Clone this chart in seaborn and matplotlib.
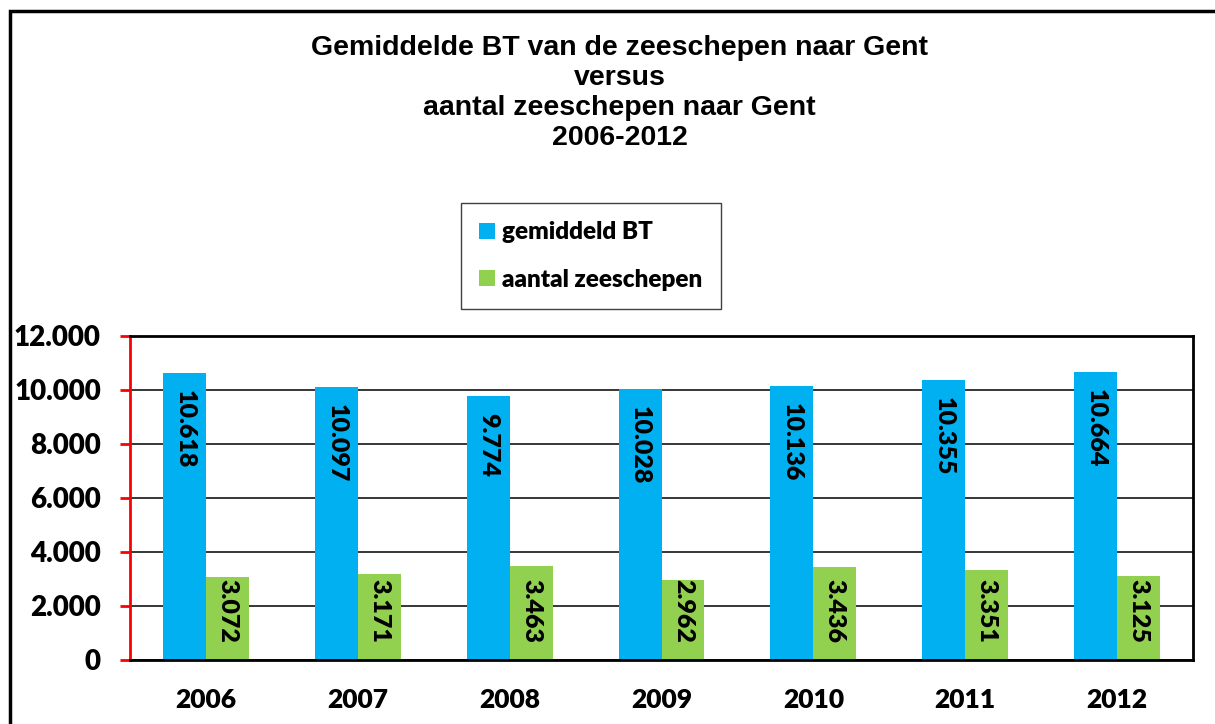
import matplotlib
matplotlib.use("Agg")
import matplotlib.pyplot as plt
from matplotlib.patches import Rectangle
from matplotlib.ticker import FuncFormatter, MultipleLocator
import pandas as pd
import seaborn as sns

# data
jaren = ["2006", "2007", "2008", "2009", "2010", "2011", "2012"]
gemiddeld_bt = [10618, 10097, 9774, 10028, 10136, 10355, 10664]
aantal_schepen = [3072, 3171, 3463, 2962, 3436, 3351, 3125]
reeksen = ["gemiddeld BT", "aantal zeeschepen"]
kleuren = ["#00B0F0", "#92D050"]

df = pd.DataFrame({
    "jaar": jaren * 2,
    "waarde": gemiddeld_bt + aantal_schepen,
    "reeks": [reeksen[0]] * len(jaren) + [reeksen[1]] * len(jaren),
})

def nl(v):
    return f"{int(v):,}".replace(",", ".")

sns.set_style("white")
plt.rcParams["font.family"] = ["Lato", "DejaVu Sans"]
plt.rcParams["font.weight"] = "heavy"
plt.rcParams["text.color"] = "black"
plt.rcParams["xtick.labelcolor"] = "black"
plt.rcParams["ytick.labelcolor"] = "black"

fig = plt.figure(figsize=(12.15, 7.24), dpi=100)
ax = fig.add_axes([130 / 1215, 1 - 660 / 724, 1063 / 1215, 324 / 724])

sns.barplot(data=df, x="jaar", y="waarde", hue="reeks", palette=kleuren,
            width=0.566, linewidth=0, saturation=1, ax=ax)

ax.set_ylim(0, 12000)
ax.yaxis.set_major_locator(MultipleLocator(2000))
ax.yaxis.set_major_formatter(FuncFormatter(lambda v, p: nl(v)))
ax.set_xlabel("")
ax.set_ylabel("")
ax.set_axisbelow(True)
ax.grid(axis="y", color="black", linewidth=1.1)

for s in ["top", "right", "bottom"]:
    ax.spines[s].set_color("black")
    ax.spines[s].set_linewidth(2)
ax.spines["left"].set_color("red")
ax.spines["left"].set_linewidth(2)

ax.tick_params(axis="y", color="red", length=7, width=2, direction="out",
               labelsize=20, pad=14, left=True, labelcolor="black")
ax.tick_params(axis="x", length=0, labelsize=19, pad=20, labelcolor="black")
for lab in ax.get_xticklabels() + ax.get_yticklabels():
    lab.set_fontweight("heavy")

# labels inside bars
blauw, groen = ax.containers[0], ax.containers[1]
for bar, v in zip(blauw, gemiddeld_bt):
    ax.annotate(nl(v), (bar.get_x() + bar.get_width() / 2, v), xytext=(0, -12),
                textcoords="offset points", rotation=-90, ha="center", va="top",
                fontsize=18, fontweight="heavy", color="black")
for bar, v in zip(groen, aantal_schepen):
    ax.annotate(nl(v), (bar.get_x() + bar.get_width() / 2, 0), xytext=(0, 12),
                textcoords="offset points", rotation=-90, ha="center", va="bottom",
                fontsize=18, fontweight="heavy", color="black")

# legend
h, l = ax.get_legend_handles_labels()
ax.legend(h, l, loc="upper left", bbox_to_anchor=(461 / 1215, 1 - 203 / 724),
          bbox_transform=fig.transFigure, frameon=True, fancybox=False,
          edgecolor="#404040", framealpha=1, borderaxespad=0,
          prop={"weight": "heavy", "size": 17.5}, handlelength=0.65, handleheight=0.65,
          handletextpad=0.3, labelspacing=1.05, borderpad=0.75)
ax.get_legend().get_frame().set_linewidth(1)
# tighten right side of the legend box
fig.canvas.draw()
frame = ax.get_legend().get_frame()
frame.set_width(frame.get_width() - 7)

# title
fig.text(0.51, 1 - 35 / 724,
         "Gemiddelde BT van de zeeschepen naar Gent\nversus\naantal zeeschepen naar Gent\n2006-2012",
         ha="center", va="top", fontsize=20.5, fontweight="bold",
         family="Liberation Sans", linespacing=1.2)

# outer frame
fig.patches.append(Rectangle((9.5 / 1215, -0.2), 1.5, 1.2 - 11.5 / 724,
                             transform=fig.transFigure, fill=False,
                             edgecolor="black", linewidth=2.5))

fig.savefig("out.png", dpi=100)
